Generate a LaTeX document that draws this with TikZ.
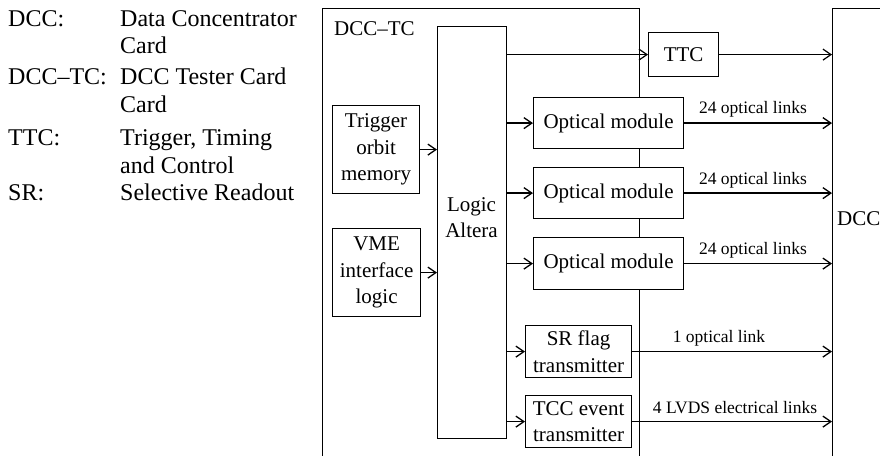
\documentclass[tikz,border=0pt]{standalone}
\usepackage{fontspec}
\setmainfont{Liberation Serif}
\usetikzlibrary{arrows.meta}
\begin{document}
\begin{tikzpicture}[x=1pt,y=-1pt,
  legend/.style={anchor=base west,inner sep=0pt,font=\fontsize{24}{27}\selectfont},
  blk/.style={draw,fill=white,line width=1.2pt,inner sep=0pt,align=center,anchor=north west,
    font=\fontsize{21}{26.5}\selectfont},
  card/.style={draw,line width=1.2pt,inner sep=0pt,anchor=north west},
  lbl/.style={anchor=base,inner sep=0pt,font=\fontsize{17.5}{20}\selectfont},
  arr/.style={line width=1.7pt,-{Straight Barb[length=8pt,width=11pt,line width=1.3pt]}},
  tarr/.style={line width=1.2pt,-{Straight Barb[length=8pt,width=11pt,line width=1.2pt]}}]
\useasboundingbox (0,0) rectangle (880,455);
% legend
\node[legend] (l1) at (8,26) {DCC:};
\node[legend] (l2) at (120,26) {Data Concentrator};
\node[legend] (l3) at (120,53) {Card};
\node[legend] (l4) at (8,84) {DCC–TC:};
\node[legend] (l5) at (120,84) {DCC Tester Card};
\node[legend] (l6) at (120,112) {Card};
\node[legend] (l7) at (8,145) {TTC:};
\node[legend] (l8) at (120,145) {Trigger, Timing};
\node[legend] (l9) at (120,173) {and Control};
\node[legend] (l10) at (8,200) {SR:};
\node[legend] (l11) at (120,200) {Selective Readout};
% cards
\node[card,minimum width=317pt,minimum height=480pt] (dcctc) at (322,8) {};
\node[card,minimum width=120pt,minimum height=480pt] (dcc) at (832,8) {};
\node[anchor=base west,inner sep=0pt,font=\fontsize{21}{26.5}\selectfont] (dcctcl) at (334,35) {DCC–TC};
\node[anchor=base west,inner sep=0pt,font=\fontsize{21}{26.5}\selectfont] (dccl) at (837,225) {DCC};
% blocks
\node[blk,minimum width=69pt,minimum height=412pt] (logic) at (437,26) {};
\node[anchor=base,inner sep=0pt,align=center,font=\fontsize{21}{26}\selectfont] (logict) at (471.5,237) {Logic\\Altera};
\node[blk,minimum width=87pt,minimum height=88pt] (trig) at (332,105) {Trigger\\orbit\\memory};
\node[blk,minimum width=88pt,minimum height=88pt] (vme) at (332,228) {VME\\interface\\logic};
\node[blk,minimum width=70pt,minimum height=44pt] (ttc) at (648,32) {TTC};
\node[blk,minimum width=150pt,minimum height=51pt] (om1) at (533,97) {Optical module};
\node[blk,minimum width=150pt,minimum height=51pt] (om2) at (533,167) {Optical module};
\node[blk,minimum width=150pt,minimum height=52pt] (om3) at (533,237) {Optical module};
\node[blk,minimum width=106pt,minimum height=52pt] (sr) at (525,325) {SR flag\\transmitter};
\node[blk,minimum width=106pt,minimum height=52pt] (tcc) at (525,395) {TCC event\\transmitter};
% connectors
\draw[arr] (trig.east) -- (trig.east -| logic.west);
\draw[arr] (vme.east) -- (vme.east -| logic.west);
\draw[tarr] (ttc.west -| logic.east) -- (ttc.west);
\draw[tarr] (ttc.east) -- (ttc.east -| dcc.west);
\draw[arr] (om1.west -| logic.east) -- (om1.west);
\draw[arr] (om2.west -| logic.east) -- (om2.west);
\draw[arr] (om3.west -| logic.east) -- (om3.west);
\draw[arr] (sr.west -| logic.east) -- (sr.west);
\draw[arr] (tcc.west -| logic.east) -- (tcc.west);
\draw[arr] (om1.east) -- (om1.east -| dcc.west);
\draw[arr] (om2.east) -- (om2.east -| dcc.west);
\draw[arr] (om3.east) -- (om3.east -| dcc.west);
\draw[arr] (sr.east) -- (sr.east -| dcc.west);
\draw[arr] (tcc.east) -- (tcc.east -| dcc.west);
% link labels
\node[lbl] (k1) at (753,113) {24 optical links};
\node[lbl] (k2) at (753,184) {24 optical links};
\node[lbl] (k3) at (753,254) {24 optical links};
\node[lbl] (k4) at (719,342) {1 optical link};
\node[lbl] (k5) at (735,413) {4 LVDS electrical links};
\end{tikzpicture}
\end{document}
